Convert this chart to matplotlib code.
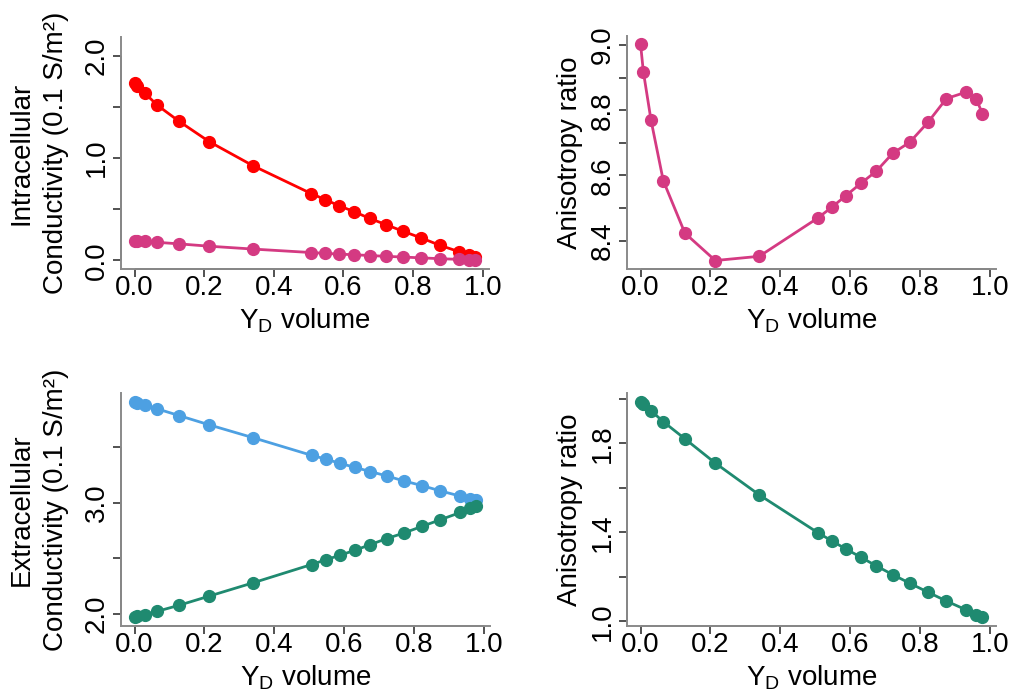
import numpy as np
import matplotlib
matplotlib.use('Agg')
import matplotlib.pyplot as plt
from matplotlib.transforms import blended_transform_factory

plt.rcParams['font.family'] = ['Liberation Sans', 'DejaVu Sans']
plt.rcParams['mathtext.fontset'] = 'custom'
plt.rcParams['mathtext.rm'] = 'Liberation Sans'

# DATA #

yd_volume = [0.0, 0.008, 0.03, 0.065, 0.127, 0.214, 0.34, 0.507, 0.547, 0.588,
             0.631, 0.675, 0.722, 0.771, 0.823, 0.876, 0.933, 0.961, 0.979]

intra_long = [1.735, 1.709, 1.634, 1.518, 1.362, 1.162, 0.926, 0.654, 0.595, 0.534,
              0.476, 0.411, 0.350, 0.285, 0.220, 0.149, 0.084, 0.049, 0.029]
intra_trans = [0.193, 0.192, 0.187, 0.177, 0.162, 0.139, 0.111, 0.077, 0.069, 0.062,
               0.055, 0.048, 0.040, 0.033, 0.025, 0.017, 0.010, 0.006, 0.003]
intra_ratio = [9.002, 8.918, 8.769, 8.584, 8.423, 8.339, 8.352, 8.469, 8.502, 8.538,
               8.576, 8.613, 8.668, 8.702, 8.763, 8.836, 8.856, 8.836, 8.790]

extra_long = [3.910, 3.899, 3.881, 3.845, 3.785, 3.701, 3.585, 3.427, 3.394, 3.355,
              3.319, 3.281, 3.242, 3.197, 3.155, 3.107, 3.060, 3.036, 3.024]
extra_trans = [1.970, 1.979, 1.994, 2.024, 2.078, 2.161, 2.281, 2.445, 2.487, 2.528,
               2.573, 2.624, 2.678, 2.728, 2.788, 2.848, 2.913, 2.955, 2.973]
extra_ratio = [1.987, 1.976, 1.946, 1.897, 1.820, 1.711, 1.568, 1.399, 1.362, 1.325,
               1.288, 1.249, 1.210, 1.171, 1.131, 1.091, 1.051, 1.028, 1.018]

x_ticks = [0.0, 0.2, 0.4, 0.6, 0.8, 1.0]
x_labels = ['0.0', '0.2', '0.4', '0.6', '0.8', '1.0']

# (all ticks, labelled ticks, labels, ylim)
tl_axis = ([0.0, 0.5, 1.0, 1.5, 2.0], [0.0, 1.0, 2.0], ['0.0', '1.0', '2.0'], (-0.084, 2.184))
tr_axis = ([8.4, 8.5, 8.6, 8.7, 8.8, 8.9, 9.0], [8.4, 8.6, 8.8, 9.0],
           ['8.4', '8.6', '8.8', '9.0'], (8.313, 9.028))
bl_axis = ([2.0, 2.5, 3.0, 3.5], [2.0, 3.0], ['2.0', '3.0'], (1.892, 3.988))
br_axis = ([1.0, 1.2, 1.4, 1.6, 1.8, 2.0], [1.0, 1.4, 1.8], ['1.0', '1.4', '1.8'], (0.979, 2.026))

red = '#FF0000'
magenta = '#D43A82'
blue = '#4DA0E2'
green = '#1F8A70'

FS = 20


def style_axes(ax, yaxis, ylabel, label_x, xlabel_y):
    all_ticks, lab_ticks, lab_text, ylim = yaxis
    ax.set_xlim(-0.039, 1.018)
    ax.set_ylim(*ylim)
    for s in ['top', 'right']:
        ax.spines[s].set_visible(False)
    for s in ['left', 'bottom']:
        ax.spines[s].set_color('#8a8a8a')
        ax.spines[s].set_linewidth(1.4)
    # dark axis line between first and last tick (R style)
    trans_y = blended_transform_factory(ax.transAxes, ax.transData)
    ax.plot([0, 0], [all_ticks[0], all_ticks[-1]], transform=trans_y,
            color='#222222', lw=1.4, clip_on=False, solid_capstyle='butt')
    trans_x = blended_transform_factory(ax.transData, ax.transAxes)
    ax.plot([x_ticks[0], x_ticks[-1]], [0, 0], transform=trans_x,
            color='#222222', lw=1.4, clip_on=False, solid_capstyle='butt')

    ax.set_xticks(x_ticks)
    ax.set_xticklabels(x_labels, fontsize=FS)
    ax.set_yticks(lab_ticks)
    ax.set_yticklabels(lab_text, fontsize=FS, rotation=90, va='center')
    ax.set_yticks([t for t in all_ticks if t not in lab_ticks], minor=True)
    ax.tick_params(which='both', direction='out', length=6, width=1.1, color='#222222')
    ax.tick_params(axis='x', pad=-2)
    ax.tick_params(axis='y', which='both', pad=2)

    ax.set_xlabel(r'$\mathregular{Y_D}$ volume', fontsize=FS)
    ax.xaxis.set_label_coords(0.5, xlabel_y)
    ax.set_ylabel(ylabel, fontsize=FS, linespacing=1.45)
    ax.yaxis.set_label_coords(label_x, 0.5)


fig = plt.figure(figsize=(10.16, 6.91), dpi=100)

ax1 = fig.add_axes([0.1191, 0.6107, 0.3622, 0.3357])
ax2 = fig.add_axes([0.6171, 0.6107, 0.3632, 0.3372])
ax3 = fig.add_axes([0.1191, 0.0941, 0.3632, 0.3372])
ax4 = fig.add_axes([0.6171, 0.0941, 0.3632, 0.3372])

lk = dict(lw=2.0, marker='o', ms=8.5, clip_on=False)

ax1.plot(yd_volume, intra_long, color=red, **lk)
ax1.plot(yd_volume, intra_trans, color=magenta, **lk)
style_axes(ax1, tl_axis, 'Intracellular\nConductivity (0.1 S/m²)', -0.14, -0.16)

ax2.plot(yd_volume, intra_ratio, color=magenta, **lk)
style_axes(ax2, tr_axis, 'Anisotropy ratio', -0.12, -0.16)

ax3.plot(yd_volume, extra_long, color=blue, **lk)
ax3.plot(yd_volume, extra_trans, color=green, **lk)
style_axes(ax3, bl_axis, 'Extracellular\nConductivity (0.1 S/m²)', -0.14, -0.159)

ax4.plot(yd_volume, extra_ratio, color=green, **lk)
style_axes(ax4, br_axis, 'Anisotropy ratio', -0.12, -0.159)

fig.savefig('out.png', dpi=100)
